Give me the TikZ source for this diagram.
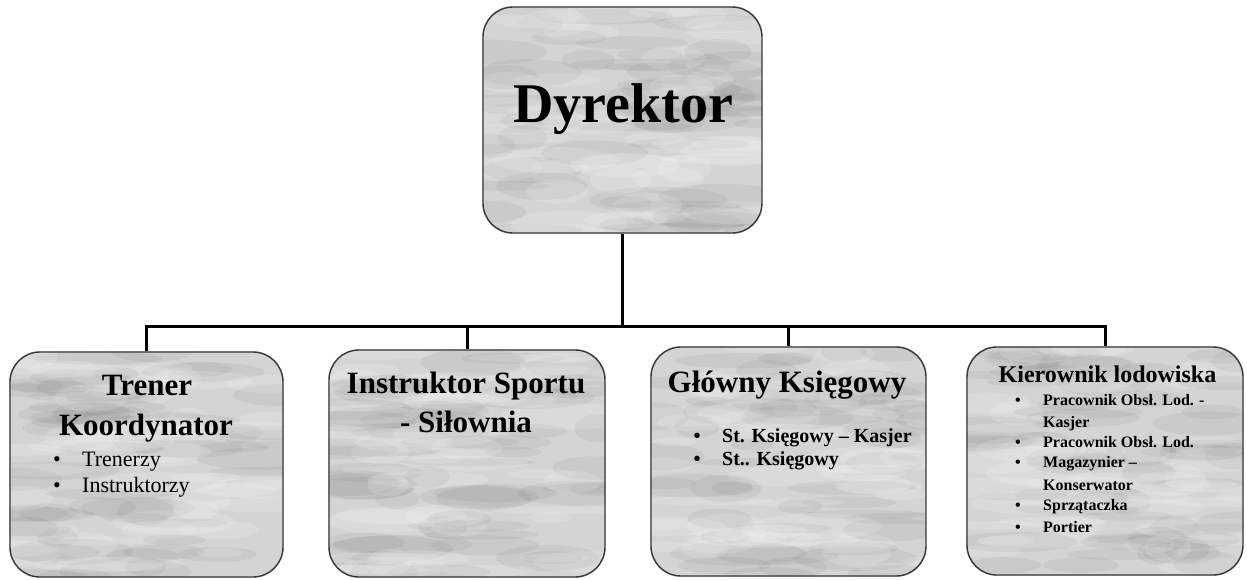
\documentclass[tikz,border=0pt]{standalone}
\usepackage{fontspec}
\setmainfont{Liberation Serif}
\usetikzlibrary{backgrounds}
\definecolor{boxgray}{gray}{0.83}
\definecolor{edgegray}{gray}{0.22}
\tikzset{
  orgbox/.style={draw=edgegray, line width=1.4pt, rounded corners=30pt, inner sep=0pt},
  conn/.style={draw=black, line width=3pt},
  headtxt/.style={anchor=base, inner sep=0pt, font=\fontsize{31}{31}\selectfont\bfseries},
  bigtxt/.style={anchor=base, inner sep=0pt, font=\fontsize{56}{56}\selectfont\bfseries},
  bul/.style={anchor=base, inner sep=0pt},
  item/.style={anchor=base west, inner sep=0pt}
}
\newcommand\marble[3]{%
  \begin{scope}
    \clip[rounded corners=30pt] (#1.south west) rectangle (#1.north east);
    \fill[boxgray] (#1.south west) rectangle (#1.north east);
    \begin{scope}[shift={(#1.center)}]
      \foreach \i in {1,...,55}{%
        \pgfmathsetmacro\px{rand*#2/2}%
        \pgfmathsetmacro\py{rand*#3/2}%
        \pgfmathsetmacro\rx{20+rnd*50}%
        \pgfmathsetmacro\ry{4+rnd*10}%
        \fill[black,opacity=0.045] (\px,\py) ellipse[x radius=\rx, y radius=\ry];
      }
      \foreach \i in {1,...,45}{%
        \pgfmathsetmacro\px{rand*#2/2}%
        \pgfmathsetmacro\py{rand*#3/2}%
        \pgfmathsetmacro\rx{20+rnd*50}%
        \pgfmathsetmacro\ry{4+rnd*10}%
        \fill[white,opacity=0.14] (\px,\py) ellipse[x radius=\rx, y radius=\ry];
      }
    \end{scope}
  \end{scope}}
\begin{document}
\begin{tikzpicture}[x=1pt,y=-1pt]
\pgfmathsetseed{12}
\useasboundingbox (0,0) rectangle (1247,579);
% boxes
\node[orgbox, minimum width=279pt, minimum height=226pt] (d) at (622.5,120) {};
\node[orgbox, minimum width=273pt, minimum height=225pt] (t) at (146.5,464.5) {};
\node[orgbox, minimum width=276pt, minimum height=227pt] (s) at (467,463.5) {};
\node[orgbox, minimum width=275pt, minimum height=229pt] (g) at (788.5,461.5) {};
\node[orgbox, minimum width=276pt, minimum height=228pt] (k) at (1105,461) {};
\begin{scope}[on background layer]
  \marble{d}{279}{226}
  \marble{t}{273}{225}
  \marble{s}{276}{227}
  \marble{g}{275}{229}
  \marble{k}{276}{228}
\end{scope}
% connectors
\coordinate (bus) at (0,326);
\draw[conn] (d.south) -- (d.south |- bus);
\draw[conn, line cap=rect] (t.north |- bus) -- (k.north |- bus);
\draw[conn] (t.north |- bus) -- (t.north);
\draw[conn] (s.north |- bus) -- (s.north);
\draw[conn] (g.north |- bus) -- (g.north);
\draw[conn] (k.north |- bus) -- (k.north);
% texts
\node[bigtxt] (dt) at (623,122) {Dyrektor};
\node[headtxt] (t1) at (147,395) {Trener};
\node[headtxt] (t2) at (146,435) {Koordynator};
\begin{scope}[font=\fontsize{22}{22}\selectfont]
  \node[bul] (tb1) at (57,466) {•};
  \node[item] (ti1) at (82,466) {Trenerzy};
  \node[bul] (tb2) at (57,492) {•};
  \node[item] (ti2) at (82,492) {Instruktorzy};
\end{scope}
\node[headtxt] (s1) at (466,393) {Instruktor Sportu};
\node[headtxt] (s2) at (466,432) {- Siłownia};
\node[headtxt] (g1) at (787,392) {Główny Księgowy};
\begin{scope}[font=\fontsize{20}{20}\selectfont\bfseries]
  \node[bul] (gb1) at (697,442) {•};
  \node[item] (gi1) at (722,442) {St. Księgowy – Kasjer};
  \node[bul] (gb2) at (697,465) {•};
  \node[item] (gi2) at (722,465) {St.. Księgowy};
\end{scope}
\node[anchor=base, inner sep=0pt, font=\fontsize{24}{24}\selectfont\bfseries] (k1) at (1107.5,382) {Kierownik lodowiska};
\begin{scope}[font=\fontsize{16}{16}\selectfont\bfseries]
  \node[bul] (kb1) at (1018,405) {•};
  \node[item] (ki1) at (1043,405) {Pracownik Obsł. Lod. -};
  \node[item] (ki1b) at (1043,427) {Kasjer};
  \node[bul] (kb2) at (1018,447) {•};
  \node[item] (ki2) at (1043,447) {Pracownik Obsł. Lod.};
  \node[bul] (kb3) at (1018,467) {•};
  \node[item] (ki3) at (1043,467) {Magazynier –};
  \node[item] (ki3b) at (1043,490) {Konserwator};
  \node[bul] (kb4) at (1018,510) {•};
  \node[item] (ki4) at (1043,510) {Sprzątaczka};
  \node[bul] (kb5) at (1018,532) {•};
  \node[item] (ki5) at (1043,532) {Portier};
\end{scope}
\end{tikzpicture}
\end{document}
